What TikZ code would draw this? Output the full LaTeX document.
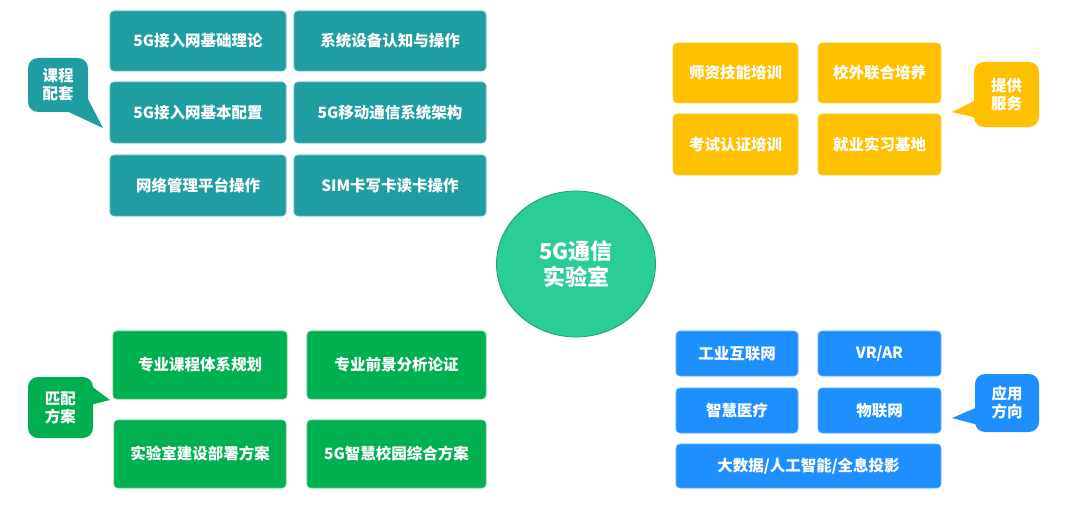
\documentclass[tikz,border=0pt]{standalone}
\usepackage{fontspec}
\setmainfont{Noto Sans CJK SC}
\usetikzlibrary{shapes.geometric}
\definecolor{cteal}{HTML}{1F9DA1}
\definecolor{cyell}{HTML}{FFC000}
\definecolor{cgreen}{HTML}{00B050}
\definecolor{cblue}{HTML}{1E8FFF}
\definecolor{ccirc}{HTML}{2ACD97}
\definecolor{ccircb}{HTML}{219C74}
\tikzset{
  box/.style={rectangle, rounded corners=4pt, fill=#1, draw=#1!70!white, line width=0.7pt,
    text=white, font=\bfseries\fontsize{15.5}{18}\selectfont, inner sep=0pt},
  callout/.style={rectangle, rounded corners=10pt, fill=#1, text=white, align=center,
    font=\bfseries\fontsize{15.5}{18}\selectfont, inner sep=0pt},
  tail/.style={fill=#1},
}
\begin{document}
\begin{tikzpicture}[x=1pt,y=-1pt]
\useasboundingbox[fill=white] (0,0) rectangle (1080,511);

% ---- teal: course ----
\node[box=cteal, minimum width=176pt, minimum height=60pt] (t1) at (198,41) {5G接入网基础理论};
\node[box=cteal, minimum width=192pt, minimum height=60pt] (t2) at (390,41) {系统设备认知与操作};
\node[box=cteal, minimum width=176pt, minimum height=61pt] (t3) at (198,112.5) {5G接入网基本配置};
\node[box=cteal, minimum width=192pt, minimum height=61pt] (t4) at (390,112.5) {5G移动通信系统架构};
\node[box=cteal, minimum width=176pt, minimum height=61pt] (t5) at (198,185.5) {网络管理平台操作};
\node[box=cteal, minimum width=192pt, minimum height=61pt] (t6) at (390,185.5) {SIM卡写卡读卡操作};
\fill[tail=cteal] (62,109) -- (103,128) -- (87,97) -- cycle;
\node[callout=cteal, minimum width=60pt, minimum height=54pt] (tc) at (58,85) {课程\\配套};

% ---- yellow: services ----
\node[box=cyell, minimum width=125pt, minimum height=60pt] (y1) at (735.5,73) {师资技能培训};
\node[box=cyell, minimum width=123pt, minimum height=60pt] (y2) at (879.5,73) {校外联合培养};
\node[box=cyell, minimum width=125pt, minimum height=61pt] (y3) at (735.5,144.5) {考试认证培训};
\node[box=cyell, minimum width=123pt, minimum height=61pt] (y4) at (879.5,144.5) {就业实习基地};
\fill[tail=cyell] (978,99) -- (952,112) -- (982,119) -- cycle;
\node[callout=cyell, minimum width=65pt, minimum height=65pt] (yc) at (1006.5,94.5) {提供\\服务};

% ---- green: plans ----
\node[box=cgreen, minimum width=174pt, minimum height=68pt] (g1) at (200,365) {专业课程体系规划};
\node[box=cgreen, minimum width=179pt, minimum height=68pt] (g2) at (396.5,365) {专业前景分析论证};
\node[box=cgreen, minimum width=172pt, minimum height=68pt] (g3) at (200,454) {实验室建设部署方案};
\node[box=cgreen, minimum width=179pt, minimum height=68pt] (g4) at (396.5,454) {5G智慧校园综合方案};
\fill[tail=cgreen] (86,382) -- (110,400) -- (90,405) -- cycle;
\node[callout=cgreen, minimum width=65pt, minimum height=61pt] (gc) at (60.5,407.5) {匹配\\方案};

% ---- blue: applications ----
\node[box=cblue, minimum width=122pt, minimum height=45pt] (b1) at (737,353.5) {工业互联网};
\node[box=cblue, minimum width=123pt, minimum height=45pt] (b2) at (879.5,353.5) {VR/AR};
\node[box=cblue, minimum width=122pt, minimum height=45pt] (b3) at (737,410.5) {智慧医疗};
\node[box=cblue, minimum width=123pt, minimum height=45pt] (b4) at (879.5,410.5) {物联网};
\node[box=cblue, minimum width=265pt, minimum height=44pt] (b5) at (808.5,466) {大数据/人工智能/全息投影};
\fill[tail=cblue] (980,406) -- (952,418) -- (982,426) -- cycle;
\node[callout=cblue, minimum width=64pt, minimum height=58pt] (bc) at (1007,403) {应用\\方向};

% ---- center ----
\node[ellipse, fill=ccirc, draw=ccircb, line width=0.8pt, minimum width=159pt, minimum height=146pt,
  inner sep=0pt, text=white, align=center, font=\bfseries\fontsize{22}{26}\selectfont] (c) at (576,264) {5G通信\\实验室};
\end{tikzpicture}
\end{document}
